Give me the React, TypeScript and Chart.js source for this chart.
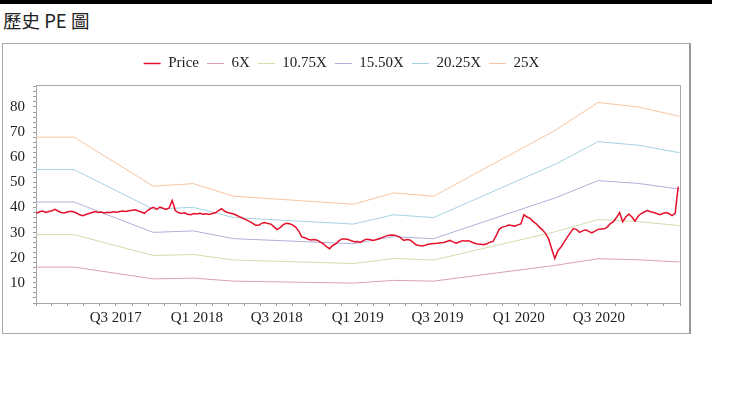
import React, { useEffect, useRef } from "react";
import { Chart, registerables } from "chart.js";

Chart.register(...registerables);

const TITLE = "歷史 PE 圖";

const seriesLabels = ["Price", "6X", "10.75X", "15.50X", "20.25X", "25X"];
const seriesColors = ["#e5102b", "#d9a0b8", "#d4dcaa", "#b1afd9", "#a6d1e2", "#f6c4a2"];

// PE band knots
const bandDates = [
  "2017-01-01", "2017-03-28", "2017-09-24", "2017-12-24", "2018-03-25", "2018-12-22",
  "2019-03-23", "2019-06-22", "2020-03-25", "2020-06-29", "2020-09-28", "2020-12-31",
];
const band6X = [16.3, 16.3, 11.6, 11.9, 10.7, 9.9, 11.0, 10.7, 17.0, 19.6, 19.2, 18.3];
const band10_75X = [29.2, 29.2, 20.9, 21.3, 19.1, 17.7, 19.7, 19.1, 30.4, 35.2, 34.4, 32.8];
const band15_50X = [42.2, 42.2, 30.1, 30.7, 27.6, 25.6, 28.4, 27.6, 43.9, 50.7, 49.6, 47.3];
const band20_25X = [55.1, 55.1, 39.3, 40.1, 36.0, 33.4, 37.1, 36.0, 57.3, 66.2, 64.8, 61.8];
const band25X = [68.0, 68.0, 48.5, 49.5, 44.5, 41.3, 45.8, 44.5, 70.8, 81.8, 80.0, 76.3];

// Weekly price, starting 2017-01-02
const priceStart = "2017-01-02";
const priceWeekly = [
  37.7, 38.3, 38.6, 38.0, 38.4, 38.7, 39.3, 38.6, 38.0, 37.8,
  38.2, 38.5, 38.3, 37.8, 37.1, 36.7, 37.2, 37.6, 38.0, 38.4,
  38.0, 38.2, 37.8, 38.1, 38.0, 38.3, 38.1, 38.4, 38.6, 38.4,
  38.7, 38.9, 39.1, 38.6, 38.2, 37.7, 38.8, 39.6, 40.1, 39.3,
  40.2, 39.7, 39.2, 39.8, 42.8, 38.8, 38.0, 37.6, 37.9, 37.3,
  37.1, 37.6, 37.4, 37.7, 37.3, 37.5, 37.2, 37.6, 37.9, 38.8,
  39.5, 38.5, 38.0, 37.7, 37.4, 36.8, 36.2, 35.7, 35.1, 34.5,
  33.8, 32.9, 32.9, 33.7, 34.0, 33.6, 33.4, 32.3, 31.2, 32.0,
  33.2, 33.7, 33.5, 33.1, 32.2, 30.6, 28.3, 28.0, 27.4, 27.1,
  27.3, 27.0, 26.2, 25.5, 24.4, 23.6, 24.9, 25.5, 26.7, 27.5,
  27.5, 27.3, 26.8, 26.4, 26.5, 26.1, 26.9, 27.4, 27.3, 26.9,
  27.2, 27.6, 28.0, 28.5, 28.9, 29.1, 29.0, 28.6, 28.0, 26.9,
  27.3, 27.1, 26.2, 25.2, 24.9, 24.7, 25.0, 25.4, 25.6, 25.7,
  25.8, 26.0, 26.1, 26.5, 26.9, 26.3, 25.8, 26.3, 26.8, 26.7,
  26.8, 26.3, 25.8, 25.5, 25.4, 25.2, 25.6, 26.2, 26.5, 28.8,
  31.4, 32.2, 32.5, 33.0, 32.8, 32.6, 33.1, 33.5, 37.1, 36.2,
  35.7, 34.4, 33.5, 32.2, 31.1, 29.6, 27.5, 23.5, 19.7, 22.8,
  24.3, 26.2, 28.1, 29.9, 31.6, 31.3, 30.1, 30.7, 31.1, 30.5,
  29.9, 30.6, 31.3, 31.4, 31.5, 32.2, 33.6, 34.4, 36.0, 38.0,
  34.3, 36.2, 37.4, 36.2, 34.6, 36.5, 37.6, 38.2, 38.8, 38.3,
  38.0, 37.6, 37.1, 37.6, 38.0, 37.6, 36.8, 37.7, 48.3,
];

// Axis definitions
const xRange = ["2017-01-01", "2021-01-01"];
const halfYearStarts = [
  "2017-01-01", "2017-07-01", "2018-01-01", "2018-07-01", "2019-01-01",
  "2019-07-01", "2020-01-01", "2020-07-01", "2021-01-01",
];
const xTickLabels = ["", "Q3 2017", "Q1 2018", "Q3 2018", "Q1 2019", "Q3 2019", "Q1 2020", "Q3 2020", ""];
const yRange = [2, 88.75];
const yMinorStep = 2;
const yTickLabels = [10, 20, 30, 40, 50, 60, 70, 80];

const DAY = 86400000;
const SERIF = "'Liberation Serif', 'Times New Roman', serif";

export default function App() {
  const canvasRef = useRef<HTMLCanvasElement | null>(null);

  useEffect(() => {
    const canvas = canvasRef.current;
    if (!canvas) return;

    const t0 = Date.parse(priceStart);
    const priceData = priceWeekly.map((v, i) => ({ x: t0 + i * 7 * DAY, y: v }));
    const bandT = bandDates.map((d) => Date.parse(d));
    const bands = [band6X, band10_75X, band15_50X, band20_25X, band25X];

    const xTicks: number[] = [];
    const xLabelMap = new Map<number, string>();
    const hs = halfYearStarts.map((d) => Date.parse(d));
    for (let i = 0; i < hs.length; i++) {
      xLabelMap.set(hs[i], xTickLabels[i]);
      if (i < hs.length - 1) {
        for (let k = 0; k < 5; k++) xTicks.push(hs[i] + ((hs[i + 1] - hs[i]) * k) / 5);
      } else {
        xTicks.push(hs[i]);
      }
    }
    const yTicks: number[] = [];
    for (let v = yMinorStep; v <= yRange[1]; v += yMinorStep) yTicks.push(v);

    const mk = (label: string, color: string, data: any[], width: number) => ({
      label,
      data,
      borderColor: color,
      backgroundColor: color,
      pointBorderColor: color,
      pointBackgroundColor: color,
      pointBorderWidth: width,
      borderWidth: width,
      pointRadius: 0,
      pointHoverRadius: 0,
      tension: 0,
    });

    const datasets: any[] = [
      mk(seriesLabels[0], seriesColors[0], priceData, 1.5),
      ...bands.map((b, j) =>
        mk(seriesLabels[j + 1], seriesColors[j + 1], b.map((v, i) => ({ x: bandT[i], y: v })), 1)
      ),
    ];

    const framePlugin = {
      id: "frame",
      afterInit(chart: any) {
        const lg = chart.legend;
        if (lg) {
          const orig = lg.fit.bind(lg);
          lg.fit = () => {
            orig();
            lg.height = 37;
          };
        }
      },
      beforeDatasetsDraw(chart: any) {
        const { ctx, chartArea } = chart;
        ctx.save();
        ctx.strokeStyle = "#a9a9a9";
        ctx.lineWidth = 1;
        ctx.strokeRect(
          Math.round(chartArea.left) + 0.5,
          Math.round(chartArea.top) + 0.5,
          Math.round(chartArea.right - chartArea.left),
          Math.round(chartArea.bottom - chartArea.top)
        );
        ctx.restore();
      },
    };

    const chart = new Chart(canvas, {
      type: "line",
      data: { datasets },
      plugins: [framePlugin],
      options: {
        animation: false,
        responsive: false,
        devicePixelRatio: 1,
        parsing: false as any,
        layout: { padding: { top: 4, right: 9, bottom: 0, left: 0 } },
        plugins: {
          legend: {
            display: true,
            position: "top",
            labels: {
              usePointStyle: true,
              pointStyle: "line",
              pointStyleWidth: 17,
              padding: 8,
              color: "#222",
              font: { family: SERIF, size: 15 },
            },
          },
          tooltip: { enabled: false },
        },
        scales: {
          x: {
            type: "linear",
            min: Date.parse(xRange[0]),
            max: Date.parse(xRange[1]),
            afterBuildTicks: (scale: any) => {
              scale.ticks = xTicks.map((v) => ({ value: v }));
            },
            afterFit: (scale: any) => {
              scale.height = 30;
            },
            grid: { display: true, drawOnChartArea: false, drawTicks: true, tickLength: 3, color: "#9a9a9a" },
            border: { display: true, color: "#9a9a9a" },
            ticks: {
              autoSkip: false,
              maxRotation: 0,
              padding: 3,
              color: "#222",
              font: { family: SERIF, size: 15 },
              callback: (v: any) => xLabelMap.get(Number(v)) ?? "",
            },
          },
          y: {
            type: "linear",
            min: yRange[0],
            max: yRange[1],
            afterBuildTicks: (scale: any) => {
              scale.ticks = yTicks.map((v) => ({ value: v }));
            },
            afterFit: (scale: any) => {
              scale.width = 33;
            },
            grid: { display: true, drawOnChartArea: false, drawTicks: true, tickLength: 3, color: "#9a9a9a" },
            border: { display: true, color: "#9a9a9a" },
            ticks: {
              autoSkip: false,
              padding: 8,
              color: "#222",
              font: { family: SERIF, size: 15 },
              callback: (v: any) => (yTickLabels.includes(Number(v)) ? String(v) : ""),
            },
          },
        },
      },
    });

    return () => chart.destroy();
  }, []);

  return (
    <div style={{ position: "absolute", left: 0, top: 0, width: 740, height: 399, background: "#fff" }}>
      <div style={{ position: "absolute", left: 0, top: 0, width: 712, height: 4, background: "#000" }} />
      <div
        style={{
          position: "absolute",
          left: 3,
          top: 9,
          fontFamily: "'Noto Sans CJK TC', sans-serif",
          fontSize: 18.5,
          lineHeight: "22px",
          color: "#222",
          whiteSpace: "nowrap",
        }}
      >
        {TITLE}
      </div>
      <div
        style={{
          position: "absolute",
          left: 2,
          top: 43,
          width: 686,
          height: 289,
          border: "1px solid #aaa",
          borderRight: "2px solid #999",
        }}
      >
        <canvas ref={canvasRef} width={686} height={289} style={{ display: "block", width: 686, height: 289 }} />
      </div>
    </div>
  );
}
